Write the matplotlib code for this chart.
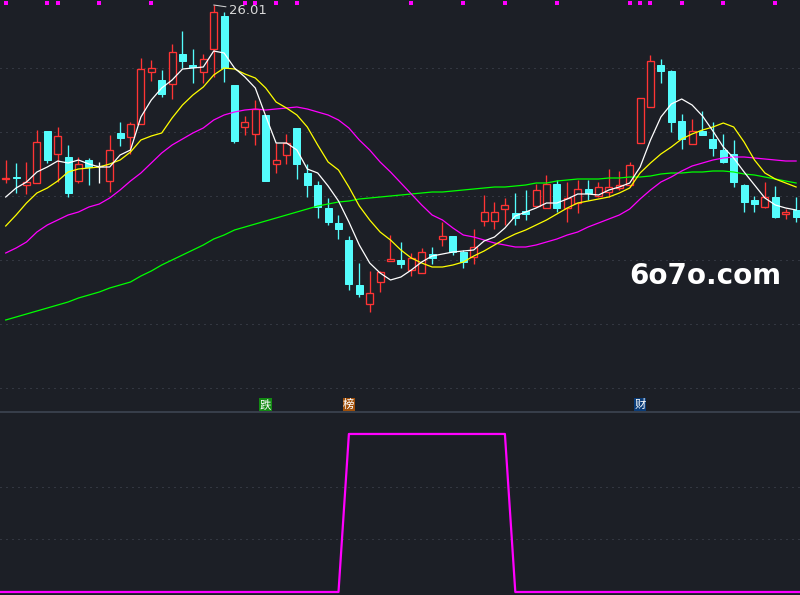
import matplotlib
matplotlib.use("Agg")
import matplotlib.pyplot as plt
from matplotlib.patches import Rectangle
import matplotlib.transforms as mtransforms

plt.rcParams['font.family'] = ['Noto Sans CJK SC', 'DejaVu Sans']

# ---------------- data ----------------
opens = [24.27, 24.29, 24.21, 24.23, 24.75, 24.52, 24.49, 24.25, 24.46, 24.40,
         24.25, 24.73, 24.69, 24.82, 25.34, 25.26, 25.22, 25.52, 25.41, 25.34,
         25.57, 25.90, 25.21, 24.79, 24.72, 24.91, 24.42, 24.51, 24.78, 24.33,
         24.21, 23.98, 23.83, 23.66, 23.21, 23.02, 23.24, 23.45, 23.46, 23.36,
         23.33, 23.52, 23.67, 23.70, 23.54, 23.49, 23.85, 23.85, 23.97, 23.93,
         23.95, 24.00, 23.98, 24.22, 23.98, 24.03, 24.17, 24.10, 24.14, 24.18,
         24.21, 24.63, 24.99, 25.41, 25.35, 24.85, 24.62, 24.75, 24.67, 24.56,
         24.52, 24.21, 24.06, 23.99, 24.09, 23.92, 23.96]
highs = [24.46, 24.43, 24.44, 24.76, 24.75, 24.79, 24.61, 24.49, 24.48, 24.44,
         24.71, 24.84, 24.84, 25.48, 25.46, 25.36, 25.62, 25.75, 25.57, 25.52,
         26.01, 25.94, 25.21, 24.90, 25.06, 24.91, 24.63, 24.72, 24.78, 24.42,
         24.25, 24.08, 23.91, 23.70, 23.43, 23.35, 23.35, 23.71, 23.64, 23.53,
         23.58, 23.59, 23.84, 23.70, 23.56, 23.77, 24.11, 24.04, 24.08, 24.13,
         24.16, 24.22, 24.31, 24.26, 24.24, 24.26, 24.26, 24.24, 24.37, 24.35,
         24.44, 25.08, 25.51, 25.47, 25.36, 24.92, 24.87, 24.95, 24.84, 24.72,
         24.66, 24.22, 24.10, 24.24, 24.20, 23.97, 24.09]
lows = [24.23, 24.13, 24.12, 24.23, 24.43, 24.24, 24.09, 24.23, 24.21, 24.23,
        24.14, 24.60, 24.52, 24.82, 25.25, 25.09, 25.07, 25.38, 25.23, 25.23,
        25.29, 25.24, 24.63, 24.71, 24.61, 24.25, 24.33, 24.42, 24.27, 24.09,
        23.88, 23.81, 23.67, 23.16, 23.09, 22.94, 23.14, 23.45, 23.38, 23.30,
        23.33, 23.42, 23.60, 23.51, 23.38, 23.42, 23.80, 23.77, 23.81, 23.81,
        23.86, 24.00, 23.98, 23.94, 23.84, 23.93, 24.06, 24.09, 24.09, 24.16,
        24.19, 24.63, 24.99, 25.23, 24.74, 24.57, 24.62, 24.71, 24.50, 24.43,
        24.19, 23.94, 23.94, 23.98, 23.88, 23.87, 23.84]
closes = [24.28, 24.28, 24.24, 24.64, 24.46, 24.70, 24.13, 24.42, 24.39, 24.40,
          24.56, 24.68, 24.82, 25.37, 25.38, 25.12, 25.54, 25.45, 25.39, 25.47,
          25.94, 25.38, 24.65, 24.84, 24.97, 24.25, 24.46, 24.63, 24.42, 24.21,
          23.99, 23.84, 23.77, 23.22, 23.12, 23.13, 23.34, 23.47, 23.42, 23.48,
          23.54, 23.48, 23.70, 23.54, 23.44, 23.59, 23.94, 23.94, 24.01, 23.88,
          23.92, 24.16, 24.22, 23.98, 24.08, 24.17, 24.13, 24.19, 24.19, 24.21,
          24.41, 25.08, 25.45, 25.35, 24.84, 24.67, 24.75, 24.71, 24.58, 24.44,
          24.24, 24.04, 24.02, 24.09, 23.89, 23.94, 23.89]

ma5 = [24.09, 24.18, 24.24, 24.34, 24.39, 24.45, 24.43, 24.46, 24.42, 24.39,
       24.39, 24.51, 24.56, 24.89, 25.06, 25.18, 25.26, 25.37, 25.38, 25.39,
       25.55, 25.53, 25.38, 25.29, 25.18, 24.90, 24.63, 24.63, 24.56, 24.37,
       24.33, 24.20, 24.05, 23.84, 23.61, 23.43, 23.33, 23.26, 23.29, 23.36,
       23.44, 23.50, 23.52, 23.54, 23.55, 23.56, 23.65, 23.69, 23.78, 23.90,
       23.94, 23.98, 24.03, 24.03, 24.07, 24.12, 24.12, 24.11, 24.16, 24.19,
       24.23, 24.39, 24.66, 24.89, 25.02, 25.07, 25.01, 24.90, 24.75, 24.59,
       24.48, 24.34, 24.21, 24.08, 24.01, 23.98, 23.96]
ma10 = [23.80, 23.91, 24.03, 24.13, 24.18, 24.25, 24.34, 24.37, 24.38, 24.39,
        24.42, 24.46, 24.54, 24.66, 24.70, 24.73, 24.88, 25.01, 25.11, 25.19,
        25.31, 25.38, 25.37, 25.32, 25.28, 25.18, 25.04, 24.98, 24.91, 24.79,
        24.61, 24.44, 24.36, 24.19, 24.00, 23.86, 23.74, 23.66, 23.56, 23.48,
        23.43, 23.39, 23.39, 23.41, 23.44, 23.50, 23.55, 23.61, 23.67, 23.72,
        23.76, 23.81, 23.86, 23.92, 23.98, 24.03, 24.05, 24.07, 24.09, 24.13,
        24.18, 24.33, 24.43, 24.52, 24.59, 24.67, 24.72, 24.76, 24.79, 24.83,
        24.79, 24.64, 24.46, 24.33, 24.27, 24.23, 24.19]
ma20 = [23.53, 23.58, 23.64, 23.74, 23.81, 23.86, 23.91, 23.94, 23.99, 24.02,
        24.08, 24.16, 24.25, 24.33, 24.43, 24.53, 24.61, 24.67, 24.73, 24.78,
        24.86, 24.91, 24.94, 24.96, 24.97, 24.96, 24.97, 24.98, 24.99, 24.97,
        24.94, 24.91, 24.86, 24.78, 24.66, 24.56, 24.44, 24.34, 24.23, 24.12,
        24.01, 23.91, 23.86, 23.78, 23.71, 23.69, 23.66, 23.63, 23.61, 23.59,
        23.59, 23.61, 23.64, 23.67, 23.71, 23.74, 23.79, 23.83, 23.87, 23.91,
        23.97, 24.07, 24.16, 24.24, 24.29, 24.35, 24.40, 24.43, 24.46, 24.48,
        24.49, 24.49, 24.48, 24.47, 24.46, 24.45, 24.45]
ma60 = [22.86, 22.89, 22.92, 22.95, 22.98, 23.01, 23.04, 23.08, 23.11, 23.14,
        23.18, 23.21, 23.24, 23.30, 23.35, 23.41, 23.46, 23.51, 23.56, 23.61,
        23.67, 23.71, 23.76, 23.79, 23.82, 23.85, 23.88, 23.91, 23.94, 23.97,
        24.00, 24.02, 24.04, 24.05, 24.07, 24.08, 24.09, 24.10, 24.11, 24.12,
        24.13, 24.14, 24.14, 24.15, 24.16, 24.17, 24.18, 24.19, 24.19, 24.20,
        24.21, 24.23, 24.23, 24.25, 24.26, 24.27, 24.27, 24.27, 24.28, 24.28,
        24.29, 24.29, 24.30, 24.32, 24.33, 24.33, 24.34, 24.34, 24.35, 24.35,
        24.34, 24.32, 24.31, 24.29, 24.27, 24.25, 24.23]

# lower indicator (0/1 per candle)
signal = [0] * 33 + [1] * 16 + [0] * 28
# top magenta marks (candle indices)
top_marks = [0, 4, 5, 9, 14, 23, 24, 26, 28, 39, 44, 48, 53, 60, 61, 62, 65, 69, 74]
# bottom-of-chart labels: (candle index, text, background colour)
tags = [(25, '跌', '#138a13'), (33, '榜', '#a0500a'), (61, '财', '#0a3c78')]
grid_prices = [25.38, 24.74, 24.10, 23.46, 22.82, 22.18]
high_label = '26.01'

# ---------------- style ----------------
BG = '#1c1f26'
RED = '#ff3434'
CYAN = '#54fcfc'
GRID = '#4a505c'
PX = 0.72  # one pixel in points at dpi 100

n = len(opens)
fig = plt.figure(figsize=(8, 5.95), dpi=100, facecolor=BG)
H_TOP = 411 / 595
ax = fig.add_axes([0, 1 - H_TOP, 1, H_TOP], facecolor=BG)
ax2 = fig.add_axes([0, 0, 1, 183 / 595], facecolor=BG)
XL = (-0.548, 76.375)
for a in (ax, ax2):
    a.set_xlim(*XL)
    for s in a.spines.values():
        s.set_visible(False)
    a.set_xticks([])
    a.set_yticks([])

ax.set_ylim(21.95, 26.06)
for gp in grid_prices:
    ax.axhline(gp, color=GRID, lw=PX, dashes=(1, 5), zorder=0)

w = 0.66
LW = 0.95
for i in range(n):
    o, h, l, c = opens[i], highs[i], lows[i], closes[i]
    if c > o:
        ax.vlines(i, c, h, color=RED, lw=LW, zorder=3)
        ax.vlines(i, l, o, color=RED, lw=LW, zorder=3)
        ax.add_patch(Rectangle((i - w / 2, o), w, c - o, facecolor=BG,
                               edgecolor=RED, lw=LW, zorder=3))
    elif c < o:
        ax.vlines(i, l, h, color=CYAN, lw=LW, zorder=3)
        ax.add_patch(Rectangle((i - w / 2, c), w, o - c, facecolor=CYAN,
                               edgecolor=CYAN, lw=PX, zorder=3))
    else:
        ax.vlines(i, l, h, color='white', lw=LW, zorder=3)
        ax.hlines(o, i - w / 2, i + w / 2, color='white', lw=LW, zorder=3)

x = list(range(n))
ax.plot(x, ma60, color='#00ff00', lw=0.9, zorder=4)
ax.plot(x, ma20, color='#ff00ff', lw=0.9, zorder=4)
ax.plot(x, ma10, color='#ffff00', lw=0.9, zorder=4)
ax.plot(x, ma5, color='#ffffff', lw=0.9, zorder=5)

trans = mtransforms.blended_transform_factory(ax.transData, ax.transAxes)
ax.plot(top_marks, [1 - 3 / 411] * len(top_marks), 's', color='#ff00ff',
        ms=2.6, mew=0, transform=trans, zorder=6)

hi_idx = highs.index(max(highs))
ax.annotate(high_label, xy=(hi_idx, highs[hi_idx]), xytext=(hi_idx + 1.45, 25.96),
            color='#d8d8d8', fontsize=9.5, va='center', ha='left',
            family=['DejaVu Sans'],
            arrowprops=dict(arrowstyle='-', color='#d8d8d8', lw=PX,
                            shrinkA=0, shrinkB=0), zorder=7)

for idx, t, col in tags:
    ax.text(idx, 1 - 404.5 / 411, t, transform=trans, ha='center', va='center',
            color='white', fontsize=8.2,
            bbox=dict(boxstyle='square,pad=0.05', facecolor=col, edgecolor='none'),
            zorder=7)

# lower panel
ax2.set_ylim(-0.019, 1.139)
for gv in (1 / 3, 2 / 3):
    ax2.axhline(gv, color=GRID, lw=PX, dashes=(1, 5), zorder=0)
ax2.plot([XL[0]] + x + [XL[1]], [signal[0]] + signal + [signal[-1]],
         color='#ff00ff', lw=1.6, zorder=3)

# panel separator
fig.add_artist(plt.Line2D([0, 1], [1 - 412 / 595] * 2, color='#3d4552', lw=1.2))

# watermark
fig.text(705.7 / 800, 1 - 276 / 595, '6o7o.com', color='white', fontsize=20,
         fontweight='bold', ha='center', va='center', family=['DejaVu Sans'])

fig.savefig('out.png', dpi=100, facecolor=BG)
